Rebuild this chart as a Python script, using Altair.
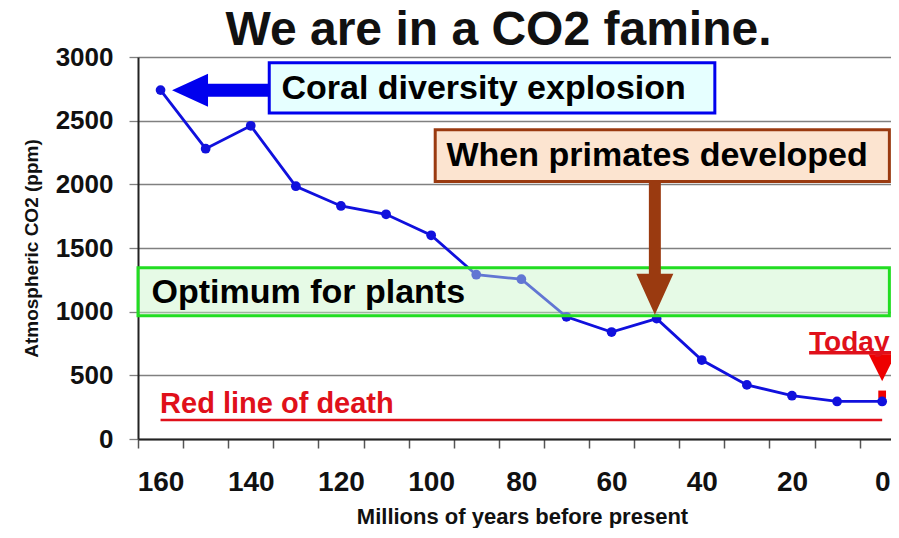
import altair as alt
import pandas as pd

FONT = "Liberation Sans"

# ---- data series ----
years = [160, 150, 140, 130, 120, 110, 100, 90, 80, 70, 60, 50, 40, 30, 20, 10, 0]
co2 = [2740, 2280, 2460, 1985, 1830, 1765, 1600, 1290, 1255, 960, 840, 945, 620, 425, 340, 295, 295]

today_year = [0]
today_co2 = [350]

y_ticks = [0, 500, 1000, 1500, 2000, 2500, 3000]
x_values = list(range(165, -1, -5))

# ---- annotation boxes ----
box_names = ["optimum", "coral", "primates"]
box_x = [165, 135.9, 99.1]
box_x2 = [-1.6, 37.1, -1.6]
box_y = [968, 2561, 2022]
box_y2 = [1345, 2954, 2428]
box_fill = ["#c8f5c8", "#e6ffff", "#fce4d0"]
box_stroke = ["#22dd22", "#0000ee", "#9a3a10"]
box_opacity = [0.45, 1.0, 1.0]

# ---- annotation texts ----
txt_label = ["Optimum for plants", "Coral diversity explosion", "When primates developed",
             "Red line of death", "Today"]
txt_x = [162, 133.2, 96.6, 160.1, 16.2]
txt_y = [1148, 2751, 2219, 277, 756]
txt_color = ["#000000", "#000000", "#000000", "#e0101a", "#e0101a"]
txt_size = [34, 34, 34, 29, 28]

# ---- rules (red line of death, Today underline) ----
rule_x = [160, 16.2]
rule_x2 = [0, -2.0]
rule_y = [150, 678]
rule_w = [2.5, 3.5]

# ---- arrows ----
arrow_x = [146.7, 50.4, 0]
arrow_y = [2738, 1498, 560]
arrow_len = [97, 133, 27]
arrow_color = ["#0000ee", "#9a3a10", "#ee0000"]
arrow_shape = [
    "M -1 0 L -0.258 -0.34 L -0.258 -0.134 L 1 -0.134 L 1 0.134 L -0.258 0.134 L -0.258 0.34 Z",
    "M -0.09 -1 L 0.09 -1 L 0.09 0.383 L 0.278 0.383 L 0 1 L -0.278 0.383 L -0.09 0.383 Z",
    "M -1 -1 L 1 -1 L 0 1 Z",
]

df = pd.DataFrame({"year": years, "co2": co2})
df_today = pd.DataFrame({"year": today_year, "co2": today_co2})
df_box = pd.DataFrame({"name": box_names, "x": box_x, "x2": box_x2, "y": box_y, "y2": box_y2,
                       "fill": box_fill, "stroke": box_stroke, "op": box_opacity})
df_txt = pd.DataFrame({"label": txt_label, "x": txt_x, "y": txt_y, "color": txt_color, "size": txt_size})
df_rule = pd.DataFrame({"x": rule_x, "x2": rule_x2, "y": rule_y, "w": rule_w})
df_arrow = pd.DataFrame({"x": arrow_x, "y": arrow_y, "size": [l * l for l in arrow_len],
                         "color": arrow_color, "shape": arrow_shape})

xscale = alt.Scale(domain=[-1.96, 165], reverse=True, nice=False, zero=False)
yscale = alt.Scale(domain=[0, 3000], nice=False)

x_axis = alt.Axis(
    values=x_values,
    labelExpr="datum.value % 20 == 0 ? datum.label : ''",
    tickOpacity={"condition": {"test": "datum.value % 10 == 5", "value": 1}, "value": 0},
    tickSize=9, tickColor="#555555", tickWidth=1.5,
    domainColor="#222222", domainWidth=2, grid=False,
    labelFont=FONT, labelFontSize=28, labelFontWeight="bold", labelColor="#111111",
    labelPadding=20, labelOverlap=False, labelFlush=False,
    title="Millions of years before present", titleFont=FONT, titleFontSize=22,
    titleFontWeight="bold", titleColor="#111111",
    titleX=384, titleY=84, titleBaseline="alphabetic", titleAlign="center",
)
y_axis = alt.Axis(
    values=y_ticks, format="d", grid=True, gridColor="#808080", gridWidth=1.3,
    tickSize=9, tickColor="#808080", tickWidth=1.3,
    domainColor="#222222", domainWidth=2,
    labelFont=FONT, labelFontSize=26, labelFontWeight="bold", labelColor="#111111",
    labelPadding=16,
    title="Atmospheric CO2 (ppm)", titleFont=FONT, titleFontSize=19, titleFontWeight="bold",
    titleColor="#111111", titleAngle=270, titleX=-107, titleY=191,
    titleBaseline="middle", titleAlign="center",
)

X = alt.X("year:Q", scale=xscale, axis=x_axis)
Y = alt.Y("co2:Q", scale=yscale, axis=y_axis)

death = alt.Chart(df_rule).mark_rule(color="#e0101a").encode(
    x=alt.X("x:Q", scale=xscale, axis=x_axis), x2="x2:Q",
    y=alt.Y("y:Q", scale=yscale, axis=y_axis),
    strokeWidth=alt.StrokeWidth("w:Q", scale=None),
)

today_pt = alt.Chart(df_today).mark_square(color="#ee0000", size=60, opacity=1).encode(x=X, y=Y)

line = alt.Chart(df).mark_line(color="#1010dd", strokeWidth=2.8).encode(x=X, y=Y)
pts = alt.Chart(df).mark_circle(color="#1010dd", size=95, opacity=1).encode(x=X, y=Y)

boxes = alt.Chart(df_box).mark_rect(strokeWidth=3).encode(
    x=alt.X("x:Q", scale=xscale, axis=x_axis), x2="x2:Q",
    y=alt.Y("y:Q", scale=yscale, axis=y_axis), y2="y2:Q",
    fill=alt.Fill("fill:N", scale=None),
    stroke=alt.Stroke("stroke:N", scale=None),
    fillOpacity=alt.FillOpacity("op:Q", scale=None),
)

arrows = alt.Chart(df_arrow).mark_point(filled=True, opacity=1, strokeWidth=0).encode(
    x=alt.X("x:Q", scale=xscale, axis=x_axis),
    y=alt.Y("y:Q", scale=yscale, axis=y_axis),
    size=alt.Size("size:Q", scale=None),
    shape=alt.Shape("shape:N", scale=None),
    color=alt.Color("color:N", scale=None),
)

texts = alt.Chart(df_txt).mark_text(align="left", baseline="middle", font=FONT, fontWeight="bold").encode(
    x=alt.X("x:Q", scale=xscale, axis=x_axis),
    y=alt.Y("y:Q", scale=yscale, axis=y_axis),
    text="label:N",
    color=alt.Color("color:N", scale=None),
    size=alt.Size("size:Q", scale=None),
)

chart = alt.layer(death, today_pt, line, pts, boxes, arrows, texts).properties(
    width=753, height=382,
    autosize=alt.AutoSizeParams(type="none"),
    padding={"left": 130, "top": 49, "right": 0, "bottom": 89},
    title=alt.TitleParams(text="We are in a CO2 famine.", font=FONT, fontSize=48,
                          fontWeight="bold", color="#111111", anchor="middle",
                          frame="group", dx=-16, dy=11, offset=0),
).configure_view(stroke=None).configure(background="white")

chart.save("out.html", embed_options={"renderer": "svg", "actions": False})
